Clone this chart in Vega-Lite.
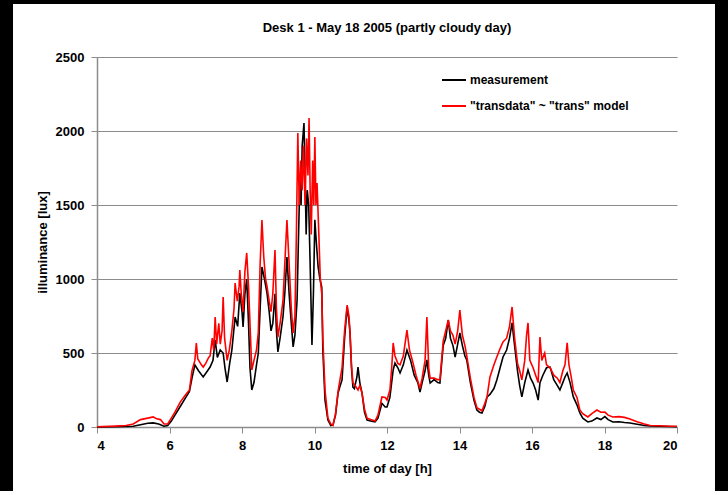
{
  "$schema": "https://vega.github.io/schema/vega-lite/v6.json",
  "width": 580,
  "height": 370,
  "autosize": {"type": "none"},
  "padding": {"left": 97, "top": 57, "right": 51, "bottom": 64},
  "background": "white",
  "title": {
    "text": "Desk 1 - May 18 2005 (partly cloudy day)",
    "font": "Liberation Sans",
    "fontSize": 13,
    "fontWeight": "bold",
    "color": "black",
    "anchor": "middle",
    "frame": "group",
    "offset": -35
  },
  "config": {
    "view": {"stroke": null},
    "axis": {
      "labelFont": "Liberation Sans",
      "labelFontSize": 13,
      "labelFontWeight": "bold",
      "labelColor": "black",
      "titleFont": "Liberation Sans",
      "titleFontSize": 13,
      "titleFontWeight": "bold",
      "titleColor": "black",
      "domainColor": "#8c8c8c",
      "domainWidth": 1.5,
      "tickColor": "#8c8c8c",
      "tickSize": 6,
      "gridColor": "#8c8c8c",
      "gridWidth": 1.2
    }
  },
  "datasets": {
    "lux": [
      {"t":4.0,"v":0,"s":"measurement"},{"t":4.5,"v":2,"s":"measurement"},{"t":5.0,"v":5,"s":"measurement"},{"t":5.2,"v":15,"s":"measurement"},{"t":5.4,"v":25,"s":"measurement"},{"t":5.55,"v":28,"s":"measurement"},{"t":5.7,"v":20,"s":"measurement"},{"t":5.85,"v":5,"s":"measurement"},{"t":5.95,"v":10,"s":"measurement"},{"t":6.05,"v":40,"s":"measurement"},{"t":6.15,"v":80,"s":"measurement"},{"t":6.3,"v":140,"s":"measurement"},{"t":6.45,"v":200,"s":"measurement"},{"t":6.55,"v":240,"s":"measurement"},{"t":6.62,"v":330,"s":"measurement"},{"t":6.7,"v":420,"s":"measurement"},{"t":6.8,"v":380,"s":"measurement"},{"t":6.93,"v":338,"s":"measurement"},{"t":7.05,"v":380,"s":"measurement"},{"t":7.12,"v":405,"s":"measurement"},{"t":7.2,"v":450,"s":"measurement"},{"t":7.26,"v":588,"s":"measurement"},{"t":7.32,"v":470,"s":"measurement"},{"t":7.4,"v":520,"s":"measurement"},{"t":7.48,"v":500,"s":"measurement"},{"t":7.53,"v":400,"s":"measurement"},{"t":7.59,"v":304,"s":"measurement"},{"t":7.66,"v":430,"s":"measurement"},{"t":7.72,"v":520,"s":"measurement"},{"t":7.81,"v":743,"s":"measurement"},{"t":7.88,"v":680,"s":"measurement"},{"t":7.94,"v":905,"s":"measurement"},{"t":8.0,"v":780,"s":"measurement"},{"t":8.03,"v":676,"s":"measurement"},{"t":8.08,"v":900,"s":"measurement"},{"t":8.13,"v":1000,"s":"measurement"},{"t":8.18,"v":700,"s":"measurement"},{"t":8.22,"v":400,"s":"measurement"},{"t":8.27,"v":250,"s":"measurement"},{"t":8.33,"v":300,"s":"measurement"},{"t":8.4,"v":420,"s":"measurement"},{"t":8.45,"v":500,"s":"measurement"},{"t":8.5,"v":800,"s":"measurement"},{"t":8.55,"v":1081,"s":"measurement"},{"t":8.62,"v":1000,"s":"measurement"},{"t":8.69,"v":905,"s":"measurement"},{"t":8.75,"v":780,"s":"measurement"},{"t":8.8,"v":650,"s":"measurement"},{"t":8.85,"v":700,"s":"measurement"},{"t":8.91,"v":900,"s":"measurement"},{"t":8.95,"v":650,"s":"measurement"},{"t":8.99,"v":507,"s":"measurement"},{"t":9.05,"v":600,"s":"measurement"},{"t":9.13,"v":743,"s":"measurement"},{"t":9.18,"v":900,"s":"measurement"},{"t":9.24,"v":1149,"s":"measurement"},{"t":9.3,"v":900,"s":"measurement"},{"t":9.36,"v":700,"s":"measurement"},{"t":9.41,"v":541,"s":"measurement"},{"t":9.46,"v":620,"s":"measurement"},{"t":9.52,"v":860,"s":"measurement"},{"t":9.56,"v":1300,"s":"measurement"},{"t":9.6,"v":1700,"s":"measurement"},{"t":9.63,"v":1500,"s":"measurement"},{"t":9.66,"v":1900,"s":"measurement"},{"t":9.71,"v":2054,"s":"measurement"},{"t":9.74,"v":1700,"s":"measurement"},{"t":9.77,"v":1300,"s":"measurement"},{"t":9.8,"v":1600,"s":"measurement"},{"t":9.84,"v":1500,"s":"measurement"},{"t":9.88,"v":1100,"s":"measurement"},{"t":9.93,"v":554,"s":"measurement"},{"t":9.97,"v":900,"s":"measurement"},{"t":10.01,"v":1400,"s":"measurement"},{"t":10.05,"v":1250,"s":"measurement"},{"t":10.1,"v":1081,"s":"measurement"},{"t":10.15,"v":1000,"s":"measurement"},{"t":10.2,"v":946,"s":"measurement"},{"t":10.23,"v":520,"s":"measurement"},{"t":10.29,"v":182,"s":"measurement"},{"t":10.37,"v":47,"s":"measurement"},{"t":10.45,"v":10,"s":"measurement"},{"t":10.51,"v":14,"s":"measurement"},{"t":10.58,"v":80,"s":"measurement"},{"t":10.65,"v":230,"s":"measurement"},{"t":10.71,"v":280,"s":"measurement"},{"t":10.76,"v":318,"s":"measurement"},{"t":10.83,"v":600,"s":"measurement"},{"t":10.9,"v":811,"s":"measurement"},{"t":10.95,"v":720,"s":"measurement"},{"t":10.98,"v":635,"s":"measurement"},{"t":11.02,"v":400,"s":"measurement"},{"t":11.06,"v":270,"s":"measurement"},{"t":11.1,"v":260,"s":"measurement"},{"t":11.17,"v":338,"s":"measurement"},{"t":11.2,"v":405,"s":"measurement"},{"t":11.25,"v":300,"s":"measurement"},{"t":11.31,"v":230,"s":"measurement"},{"t":11.38,"v":100,"s":"measurement"},{"t":11.45,"v":47,"s":"measurement"},{"t":11.55,"v":40,"s":"measurement"},{"t":11.67,"v":34,"s":"measurement"},{"t":11.75,"v":60,"s":"measurement"},{"t":11.86,"v":160,"s":"measurement"},{"t":11.95,"v":135,"s":"measurement"},{"t":12.0,"v":135,"s":"measurement"},{"t":12.08,"v":200,"s":"measurement"},{"t":12.17,"v":385,"s":"measurement"},{"t":12.22,"v":432,"s":"measurement"},{"t":12.3,"v":400,"s":"measurement"},{"t":12.36,"v":365,"s":"measurement"},{"t":12.45,"v":420,"s":"measurement"},{"t":12.55,"v":520,"s":"measurement"},{"t":12.65,"v":450,"s":"measurement"},{"t":12.75,"v":350,"s":"measurement"},{"t":12.85,"v":300,"s":"measurement"},{"t":12.91,"v":236,"s":"measurement"},{"t":12.97,"v":300,"s":"measurement"},{"t":13.05,"v":380,"s":"measurement"},{"t":13.1,"v":453,"s":"measurement"},{"t":13.15,"v":350,"s":"measurement"},{"t":13.19,"v":297,"s":"measurement"},{"t":13.3,"v":320,"s":"measurement"},{"t":13.4,"v":300,"s":"measurement"},{"t":13.46,"v":297,"s":"measurement"},{"t":13.55,"v":550,"s":"measurement"},{"t":13.62,"v":600,"s":"measurement"},{"t":13.69,"v":723,"s":"measurement"},{"t":13.75,"v":600,"s":"measurement"},{"t":13.82,"v":550,"s":"measurement"},{"t":13.88,"v":473,"s":"measurement"},{"t":13.95,"v":560,"s":"measurement"},{"t":14.01,"v":635,"s":"measurement"},{"t":14.08,"v":550,"s":"measurement"},{"t":14.15,"v":480,"s":"measurement"},{"t":14.2,"v":453,"s":"measurement"},{"t":14.3,"v":300,"s":"measurement"},{"t":14.4,"v":180,"s":"measurement"},{"t":14.48,"v":115,"s":"measurement"},{"t":14.55,"v":100,"s":"measurement"},{"t":14.62,"v":95,"s":"measurement"},{"t":14.7,"v":140,"s":"measurement"},{"t":14.76,"v":203,"s":"measurement"},{"t":14.84,"v":220,"s":"measurement"},{"t":14.95,"v":260,"s":"measurement"},{"t":15.03,"v":318,"s":"measurement"},{"t":15.12,"v":400,"s":"measurement"},{"t":15.2,"v":473,"s":"measurement"},{"t":15.3,"v":520,"s":"measurement"},{"t":15.38,"v":600,"s":"measurement"},{"t":15.45,"v":703,"s":"measurement"},{"t":15.52,"v":550,"s":"measurement"},{"t":15.6,"v":380,"s":"measurement"},{"t":15.66,"v":280,"s":"measurement"},{"t":15.72,"v":203,"s":"measurement"},{"t":15.8,"v":300,"s":"measurement"},{"t":15.89,"v":385,"s":"measurement"},{"t":15.96,"v":330,"s":"measurement"},{"t":16.03,"v":297,"s":"measurement"},{"t":16.1,"v":250,"s":"measurement"},{"t":16.17,"v":182,"s":"measurement"},{"t":16.22,"v":300,"s":"measurement"},{"t":16.3,"v":350,"s":"measurement"},{"t":16.4,"v":400,"s":"measurement"},{"t":16.5,"v":405,"s":"measurement"},{"t":16.6,"v":320,"s":"measurement"},{"t":16.7,"v":280,"s":"measurement"},{"t":16.77,"v":250,"s":"measurement"},{"t":16.85,"v":300,"s":"measurement"},{"t":16.91,"v":338,"s":"measurement"},{"t":16.97,"v":365,"s":"measurement"},{"t":17.05,"v":300,"s":"measurement"},{"t":17.14,"v":203,"s":"measurement"},{"t":17.24,"v":150,"s":"measurement"},{"t":17.32,"v":95,"s":"measurement"},{"t":17.4,"v":60,"s":"measurement"},{"t":17.54,"v":34,"s":"measurement"},{"t":17.65,"v":40,"s":"measurement"},{"t":17.79,"v":61,"s":"measurement"},{"t":17.9,"v":50,"s":"measurement"},{"t":18.01,"v":70,"s":"measurement"},{"t":18.1,"v":50,"s":"measurement"},{"t":18.23,"v":34,"s":"measurement"},{"t":18.4,"v":35,"s":"measurement"},{"t":18.55,"v":30,"s":"measurement"},{"t":18.7,"v":27,"s":"measurement"},{"t":18.9,"v":18,"s":"measurement"},{"t":19.1,"v":10,"s":"measurement"},{"t":19.26,"v":7,"s":"measurement"},{"t":19.5,"v":5,"s":"measurement"},{"t":19.8,"v":3,"s":"measurement"},{"t":20.0,"v":2,"s":"measurement"},
      {"t":4.0,"v":2,"s":"model"},{"t":4.5,"v":6,"s":"model"},{"t":4.8,"v":10,"s":"model"},{"t":5.0,"v":20,"s":"model"},{"t":5.2,"v":50,"s":"model"},{"t":5.4,"v":60,"s":"model"},{"t":5.55,"v":68,"s":"model"},{"t":5.65,"v":55,"s":"model"},{"t":5.75,"v":50,"s":"model"},{"t":5.85,"v":20,"s":"model"},{"t":5.95,"v":20,"s":"model"},{"t":6.05,"v":60,"s":"model"},{"t":6.15,"v":100,"s":"model"},{"t":6.3,"v":170,"s":"model"},{"t":6.45,"v":220,"s":"model"},{"t":6.55,"v":250,"s":"model"},{"t":6.62,"v":380,"s":"model"},{"t":6.7,"v":450,"s":"model"},{"t":6.74,"v":567,"s":"model"},{"t":6.78,"v":460,"s":"model"},{"t":6.88,"v":420,"s":"model"},{"t":6.93,"v":405,"s":"model"},{"t":7.0,"v":430,"s":"model"},{"t":7.08,"v":470,"s":"model"},{"t":7.12,"v":480,"s":"model"},{"t":7.18,"v":600,"s":"model"},{"t":7.22,"v":520,"s":"model"},{"t":7.26,"v":743,"s":"model"},{"t":7.3,"v":560,"s":"model"},{"t":7.36,"v":700,"s":"model"},{"t":7.4,"v":560,"s":"model"},{"t":7.45,"v":650,"s":"model"},{"t":7.48,"v":878,"s":"model"},{"t":7.52,"v":600,"s":"model"},{"t":7.59,"v":450,"s":"model"},{"t":7.65,"v":520,"s":"model"},{"t":7.72,"v":650,"s":"model"},{"t":7.78,"v":800,"s":"model"},{"t":7.81,"v":973,"s":"model"},{"t":7.87,"v":850,"s":"model"},{"t":7.92,"v":950,"s":"model"},{"t":7.94,"v":1061,"s":"model"},{"t":7.98,"v":900,"s":"model"},{"t":8.03,"v":780,"s":"model"},{"t":8.08,"v":1050,"s":"model"},{"t":8.13,"v":1176,"s":"model"},{"t":8.18,"v":950,"s":"model"},{"t":8.22,"v":700,"s":"model"},{"t":8.27,"v":385,"s":"model"},{"t":8.33,"v":450,"s":"model"},{"t":8.4,"v":520,"s":"model"},{"t":8.45,"v":640,"s":"model"},{"t":8.5,"v":1100,"s":"model"},{"t":8.55,"v":1399,"s":"model"},{"t":8.6,"v":1150,"s":"model"},{"t":8.65,"v":1000,"s":"model"},{"t":8.69,"v":950,"s":"model"},{"t":8.75,"v":850,"s":"model"},{"t":8.8,"v":780,"s":"model"},{"t":8.85,"v":900,"s":"model"},{"t":8.91,"v":1196,"s":"model"},{"t":8.95,"v":800,"s":"model"},{"t":8.99,"v":608,"s":"model"},{"t":9.05,"v":700,"s":"model"},{"t":9.13,"v":850,"s":"model"},{"t":9.18,"v":1100,"s":"model"},{"t":9.24,"v":1399,"s":"model"},{"t":9.3,"v":1100,"s":"model"},{"t":9.36,"v":800,"s":"model"},{"t":9.41,"v":635,"s":"model"},{"t":9.46,"v":750,"s":"model"},{"t":9.5,"v":1300,"s":"model"},{"t":9.54,"v":1986,"s":"model"},{"t":9.58,"v":1500,"s":"model"},{"t":9.62,"v":1800,"s":"model"},{"t":9.66,"v":1600,"s":"model"},{"t":9.7,"v":1900,"s":"model"},{"t":9.74,"v":1500,"s":"model"},{"t":9.78,"v":1950,"s":"model"},{"t":9.82,"v":1700,"s":"model"},{"t":9.85,"v":2088,"s":"model"},{"t":9.88,"v":1600,"s":"model"},{"t":9.91,"v":1300,"s":"model"},{"t":9.95,"v":1800,"s":"model"},{"t":9.98,"v":1500,"s":"model"},{"t":10.01,"v":1960,"s":"model"},{"t":10.04,"v":1500,"s":"model"},{"t":10.07,"v":1649,"s":"model"},{"t":10.12,"v":1300,"s":"model"},{"t":10.16,"v":1000,"s":"model"},{"t":10.2,"v":900,"s":"model"},{"t":10.23,"v":600,"s":"model"},{"t":10.29,"v":250,"s":"model"},{"t":10.37,"v":60,"s":"model"},{"t":10.45,"v":20,"s":"model"},{"t":10.51,"v":10,"s":"model"},{"t":10.58,"v":90,"s":"model"},{"t":10.65,"v":240,"s":"model"},{"t":10.71,"v":330,"s":"model"},{"t":10.76,"v":400,"s":"model"},{"t":10.83,"v":650,"s":"model"},{"t":10.9,"v":824,"s":"model"},{"t":10.95,"v":750,"s":"model"},{"t":10.98,"v":640,"s":"model"},{"t":11.02,"v":420,"s":"model"},{"t":11.06,"v":300,"s":"model"},{"t":11.12,"v":280,"s":"model"},{"t":11.2,"v":250,"s":"model"},{"t":11.25,"v":280,"s":"model"},{"t":11.31,"v":230,"s":"model"},{"t":11.38,"v":120,"s":"model"},{"t":11.45,"v":60,"s":"model"},{"t":11.55,"v":50,"s":"model"},{"t":11.67,"v":40,"s":"model"},{"t":11.75,"v":80,"s":"model"},{"t":11.86,"v":203,"s":"model"},{"t":11.95,"v":200,"s":"model"},{"t":12.0,"v":182,"s":"model"},{"t":12.08,"v":250,"s":"model"},{"t":12.13,"v":400,"s":"model"},{"t":12.17,"v":568,"s":"model"},{"t":12.22,"v":480,"s":"model"},{"t":12.3,"v":430,"s":"model"},{"t":12.36,"v":420,"s":"model"},{"t":12.45,"v":480,"s":"model"},{"t":12.55,"v":655,"s":"model"},{"t":12.62,"v":520,"s":"model"},{"t":12.7,"v":450,"s":"model"},{"t":12.8,"v":350,"s":"model"},{"t":12.91,"v":260,"s":"model"},{"t":12.97,"v":330,"s":"model"},{"t":13.05,"v":450,"s":"model"},{"t":13.1,"v":743,"s":"model"},{"t":13.15,"v":400,"s":"model"},{"t":13.19,"v":330,"s":"model"},{"t":13.3,"v":330,"s":"model"},{"t":13.4,"v":320,"s":"model"},{"t":13.46,"v":320,"s":"model"},{"t":13.55,"v":580,"s":"model"},{"t":13.62,"v":650,"s":"model"},{"t":13.69,"v":723,"s":"model"},{"t":13.75,"v":650,"s":"model"},{"t":13.82,"v":620,"s":"model"},{"t":13.88,"v":560,"s":"model"},{"t":13.95,"v":650,"s":"model"},{"t":14.01,"v":790,"s":"model"},{"t":14.08,"v":620,"s":"model"},{"t":14.15,"v":550,"s":"model"},{"t":14.2,"v":480,"s":"model"},{"t":14.3,"v":330,"s":"model"},{"t":14.4,"v":200,"s":"model"},{"t":14.48,"v":130,"s":"model"},{"t":14.55,"v":120,"s":"model"},{"t":14.62,"v":110,"s":"model"},{"t":14.7,"v":160,"s":"model"},{"t":14.76,"v":203,"s":"model"},{"t":14.84,"v":338,"s":"model"},{"t":14.95,"v":420,"s":"model"},{"t":15.03,"v":473,"s":"model"},{"t":15.12,"v":530,"s":"model"},{"t":15.2,"v":575,"s":"model"},{"t":15.3,"v":600,"s":"model"},{"t":15.38,"v":680,"s":"model"},{"t":15.45,"v":811,"s":"model"},{"t":15.52,"v":600,"s":"model"},{"t":15.6,"v":430,"s":"model"},{"t":15.66,"v":380,"s":"model"},{"t":15.72,"v":318,"s":"model"},{"t":15.8,"v":450,"s":"model"},{"t":15.85,"v":620,"s":"model"},{"t":15.89,"v":703,"s":"model"},{"t":15.94,"v":450,"s":"model"},{"t":16.03,"v":400,"s":"model"},{"t":16.1,"v":350,"s":"model"},{"t":16.17,"v":300,"s":"model"},{"t":16.22,"v":608,"s":"model"},{"t":16.27,"v":450,"s":"model"},{"t":16.35,"v":500,"s":"model"},{"t":16.4,"v":420,"s":"model"},{"t":16.5,"v":400,"s":"model"},{"t":16.6,"v":350,"s":"model"},{"t":16.7,"v":330,"s":"model"},{"t":16.77,"v":300,"s":"model"},{"t":16.85,"v":380,"s":"model"},{"t":16.91,"v":420,"s":"model"},{"t":16.97,"v":568,"s":"model"},{"t":17.02,"v":420,"s":"model"},{"t":17.08,"v":340,"s":"model"},{"t":17.14,"v":250,"s":"model"},{"t":17.24,"v":200,"s":"model"},{"t":17.32,"v":115,"s":"model"},{"t":17.4,"v":90,"s":"model"},{"t":17.54,"v":68,"s":"model"},{"t":17.65,"v":90,"s":"model"},{"t":17.79,"v":115,"s":"model"},{"t":17.9,"v":100,"s":"model"},{"t":18.01,"v":101,"s":"model"},{"t":18.1,"v":80,"s":"model"},{"t":18.23,"v":68,"s":"model"},{"t":18.4,"v":70,"s":"model"},{"t":18.55,"v":65,"s":"model"},{"t":18.7,"v":54,"s":"model"},{"t":18.9,"v":35,"s":"model"},{"t":19.1,"v":20,"s":"model"},{"t":19.26,"v":10,"s":"model"},{"t":19.5,"v":8,"s":"model"},{"t":19.8,"v":5,"s":"model"},{"t":20.0,"v":5,"s":"model"}
    ]
  },
  "layer": [
    {
      "data": {"name": "lux"},
      "mark": {"type": "line", "strokeWidth": 1.6, "interpolate": "linear"},
      "encoding": {
        "x": {
          "field": "t",
          "type": "quantitative",
          "scale": {"domain": [4, 20], "nice": false},
          "axis": {"values": [4, 6, 8, 10, 12, 14, 16, 18, 20], "format": "d", "title": "time of day [h]", "grid": false, "labelPadding": 6, "titlePadding": 10}
        },
        "y": {
          "field": "v",
          "type": "quantitative",
          "scale": {"domain": [0, 2500], "nice": false},
          "axis": {"values": [0, 500, 1000, 1500, 2000, 2500], "format": "d", "title": "illuminance [lux]", "grid": true, "labelPadding": 7, "titlePadding": 6}
        },
        "color": {
          "field": "s",
          "type": "nominal",
          "scale": {"domain": ["measurement", "model"], "range": ["black", "#ff0000"]},
          "legend": {
            "title": null,
            "orient": "none",
            "legendX": 344,
            "legendY": 10,
            "symbolType": "stroke",
            "symbolSize": 576,
            "symbolStrokeWidth": 2,
            "labelFont": "Liberation Sans",
            "labelFontSize": 12,
            "labelFontWeight": "bold",
            "labelColor": "black",
            "labelOffset": 3,
            "rowPadding": 7,
            "labelExpr": "datum.value == 'model' ? '\"transdata\" ~ \"trans\" model' : datum.value"
          }
        }
      }
    },
    {
      "data": {"values": [{}]},
      "mark": {"type": "rect", "color": "black"},
      "encoding": {
        "x": {"datum": 1.324, "type": "quantitative"},
        "x2": {"datum": 1.683},
        "y": {"datum": -432, "type": "quantitative"},
        "y2": {"datum": 2885}
      }
    },
    {
      "data": {"values": [{}]},
      "mark": {"type": "rect", "color": "black"},
      "encoding": {
        "x": {"datum": 21.048, "type": "quantitative"},
        "x2": {"datum": 21.407},
        "y": {"datum": -432, "type": "quantitative"},
        "y2": {"datum": 2885}
      }
    },
    {
      "data": {"values": [{}]},
      "mark": {"type": "rect", "color": "black"},
      "encoding": {
        "x": {"datum": 1.324, "type": "quantitative"},
        "x2": {"datum": 21.407},
        "y": {"datum": 2858, "type": "quantitative"},
        "y2": {"datum": 2885}
      }
    }
  ]
}
